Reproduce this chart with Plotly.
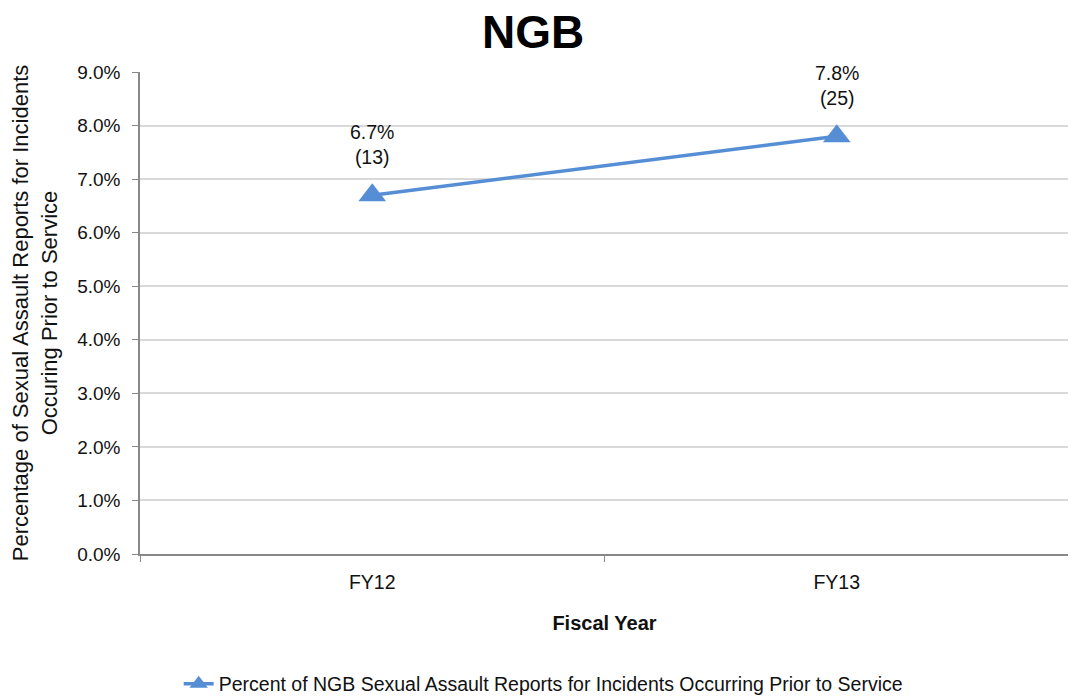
import plotly.graph_objects as go

years = ["FY12", "FY13"]
percent = [6.7, 7.8]
counts = [13, 25]
series_name = "Percent of NGB Sexual Assault Reports for Incidents Occurring Prior to Service"

labels = [f"{p:.1f}%<br>({c})" for p, c in zip(percent, counts)]

FONT = "Liberation Sans, Arial, sans-serif"
COLOR = "#558ED5"

fig = go.Figure()
fig.add_trace(go.Scatter(
    x=years, y=percent, name=series_name,
    mode="lines+markers",
    line=dict(color=COLOR, width=3.5),
    marker=dict(symbol="triangle-up", size=24, color=COLOR),
    cliponaxis=False,
))

for x, y, t in zip(years, percent, labels):
    fig.add_annotation(x=x, y=y, text=t, showarrow=False, yanchor="bottom", yshift=25,
                       font=dict(size=19.5, family=FONT, color="#111111"))

fig.update_layout(
    width=1068, height=692,
    margin=dict(l=132, r=7, t=64, b=146, autoexpand=False),
    paper_bgcolor="white", plot_bgcolor="white",
    font=dict(family=FONT, color="#111111"),
    title=dict(text="<b>NGB</b>", x=0.4916, xanchor="center", y=0.965, yanchor="middle",
               font=dict(size=46, family=FONT, color="black")),
    showlegend=True,
    legend=dict(orientation="h", x=0.434, xanchor="center", y=-0.27, yanchor="middle",
                font=dict(size=19.5, family=FONT, color="#111111")),
    xaxis=dict(
        type="category", range=[-0.5, 1.5], tickson="boundaries",
        ticks="outside", ticklen=6, tickcolor="#888888",
        showline=True, linecolor="#888888", linewidth=1.5,
        showgrid=False, automargin=False,
        tickfont=dict(size=19.5, family=FONT),
        ticklabelstandoff=10,
        title=dict(text="<b>Fiscal Year</b>", font=dict(size=20, family=FONT), standoff=24),
    ),
    yaxis=dict(
        range=[0, 9], dtick=1, ticksuffix="%", tickformat=".1f",
        ticks="outside", ticklen=6, tickcolor="#888888",
        showline=True, linecolor="#888888", linewidth=1.5,
        showgrid=True, gridcolor="#D9D9D9", gridwidth=1.5,
        zeroline=False, automargin=False,
        tickfont=dict(size=19, family=FONT),
        ticklabelstandoff=8,
        title=dict(text="Percentage of Sexual Assault Reports for Incidents<br>Occuring Prior to Service",
                   font=dict(size=22, family=FONT), standoff=14),
    ),
)

fig.write_html("out.html")
